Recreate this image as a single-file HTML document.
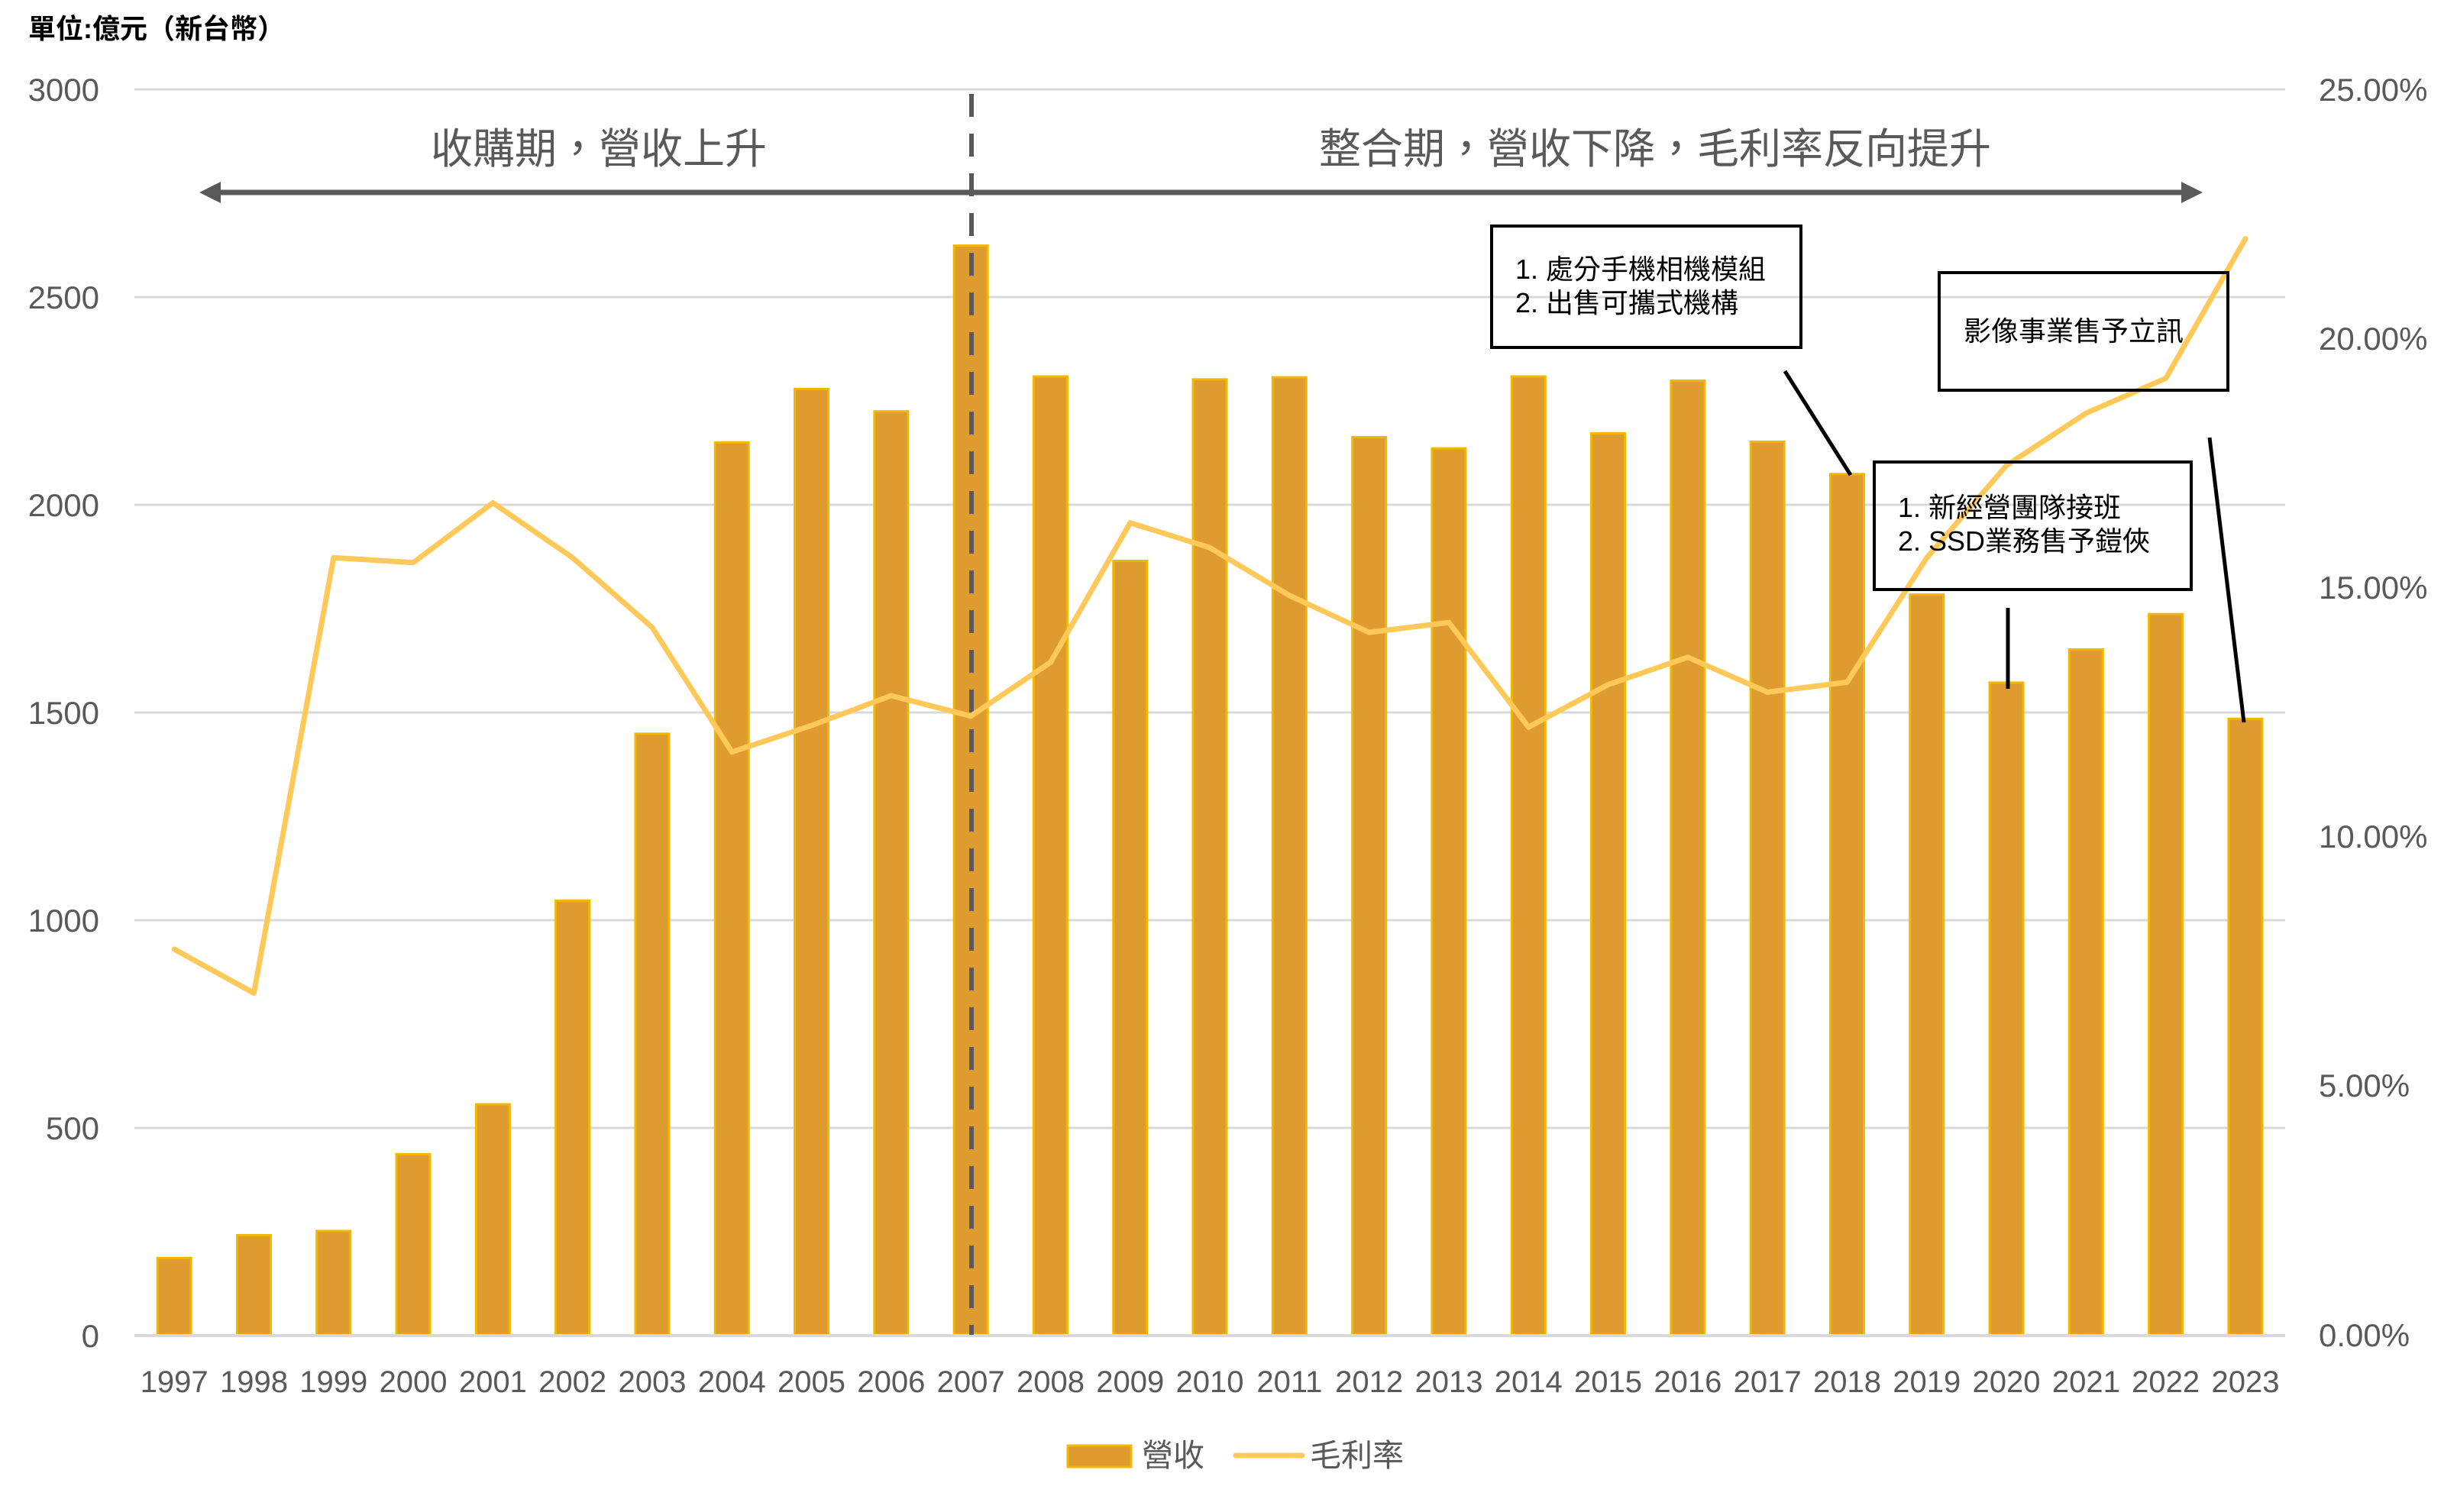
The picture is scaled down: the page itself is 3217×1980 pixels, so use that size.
<!DOCTYPE html>
<html><head><meta charset="utf-8">
<style>
html,body{margin:0;padding:0;background:#fff;}
svg{display:block;}
text{font-family:"Liberation Sans","Noto Sans CJK TC",sans-serif;}
</style></head>
<body>
<svg width="3217" height="1980" viewBox="0 0 3217 1980" xmlns="http://www.w3.org/2000/svg">
<text x="37" y="50" font-size="36" fill="#000" font-weight="bold">單位:億元（新台幣）</text>
<g stroke="#d9d9d9" stroke-width="3">
<line x1="176" x2="2992" y1="117" y2="117"/>
<line x1="176" x2="2992" y1="389" y2="389"/>
<line x1="176" x2="2992" y1="661" y2="661"/>
<line x1="176" x2="2992" y1="933" y2="933"/>
<line x1="176" x2="2992" y1="1205" y2="1205"/>
<line x1="176" x2="2992" y1="1477" y2="1477"/>
</g>
<g font-size="42" fill="#595959" text-anchor="end">
<text x="130" y="132">3000</text>
<text x="130" y="404">2500</text>
<text x="130" y="676">2000</text>
<text x="130" y="948">1500</text>
<text x="130" y="1220">1000</text>
<text x="130" y="1492">500</text>
<text x="130" y="1764">0</text>
</g>
<g font-size="42" fill="#595959">
<text x="3036" y="132">25.00%</text>
<text x="3036" y="458">20.00%</text>
<text x="3036" y="784">15.00%</text>
<text x="3036" y="1110">10.00%</text>
<text x="3036" y="1436">5.00%</text>
<text x="3036" y="1763">0.00%</text>
</g>
<g id="bars" fill="#DD9B30" stroke="#F2B800" stroke-width="3"></g>
<line x1="176" x2="2992" y1="1749" y2="1749" stroke="#d9d9d9" stroke-width="4"/>
<g id="years" font-size="40" fill="#595959" text-anchor="middle"></g>
<line x1="1272" y1="123" x2="1272" y2="1748" stroke="#595959" stroke-width="6" stroke-dasharray="30,22"/>
<line x1="285" y1="252" x2="2860" y2="252" stroke="#595959" stroke-width="7"/>
<polygon points="261,252 289,238 289,266" fill="#595959"/>
<polygon points="2884,252 2856,238 2856,266" fill="#595959"/>
<text x="784" y="214" font-size="55" fill="#595959" text-anchor="middle">收購期，營收上升</text>
<text x="2167" y="214" font-size="55" fill="#595959" text-anchor="middle">整合期，營收下降，毛利率反向提升</text>
<polyline id="line" fill="none" stroke="#FFC95A" stroke-width="7" stroke-linejoin="round" stroke-linecap="round"/>
<g fill="none" stroke="#000" stroke-width="4">
<rect x="1953" y="296" width="405" height="159"/>
<rect x="2539" y="357" width="378" height="154"/>
<rect x="2454" y="605" width="415" height="167"/>
</g>
<g fill="none" stroke="#000" stroke-width="5">
<line x1="2337" y1="486" x2="2423" y2="622"/>
<line x1="2629" y1="796" x2="2629" y2="902"/>
<line x1="2893" y1="573" x2="2938" y2="946"/>
</g>
<g font-size="36" fill="#000">
<text x="1984" y="365">1. 處分手機相機模組</text>
<text x="1984" y="409">2. 出售可攜式機構</text>
<text x="2571" y="446">影像事業售予立訊</text>
<text x="2485" y="677">1. 新經營團隊接班</text>
<text x="2485" y="721">2. SSD業務售予鎧俠</text>
</g>
<rect x="1398" y="1893" width="83" height="28" fill="#DD9B30" stroke="#F2B800" stroke-width="3"/>
<text x="1495" y="1920" font-size="41" fill="#595959">營收</text>
<line x1="1618" y1="1906" x2="1705" y2="1906" stroke="#FFC95A" stroke-width="7" stroke-linecap="round"/>
<text x="1715" y="1920" font-size="41" fill="#595959">毛利率</text>
<script>
var rev=[185,240,250,435,555,1045,1447,2148,2277,2223,2622,2307,1863,2300,2305,2161,2134,2307,2170,2297,2150,2072,1782,1570,1650,1735,1483];
var gm=[7.74,6.86,15.6,15.5,16.7,15.6,14.2,11.7,12.23,12.83,12.42,13.5,16.3,15.8,14.84,14.1,14.3,12.2,13.05,13.6,12.9,13.1,15.6,17.45,18.5,19.2,22.0];
var ns="http://www.w3.org/2000/svg",bars=document.getElementById('bars'),yrs=document.getElementById('years'),pts=[];
for(var i=0;i<27;i++){
 var cx=176+104.3*(i+0.5);
 var h=rev[i]/500*272;
 var r=document.createElementNS(ns,'rect');
 r.setAttribute('x',cx-22);r.setAttribute('width',44);r.setAttribute('y',1748-h);r.setAttribute('height',h);
 bars.appendChild(r);
 var t=document.createElementNS(ns,'text');t.setAttribute('x',cx);t.setAttribute('y',1823);t.textContent=1997+i;yrs.appendChild(t);
 pts.push(cx.toFixed(1)+','+(1748-gm[i]/5*326.2).toFixed(1));
}
document.getElementById('line').setAttribute('points',pts.join(' '));
</script>
</svg>
</body></html>
